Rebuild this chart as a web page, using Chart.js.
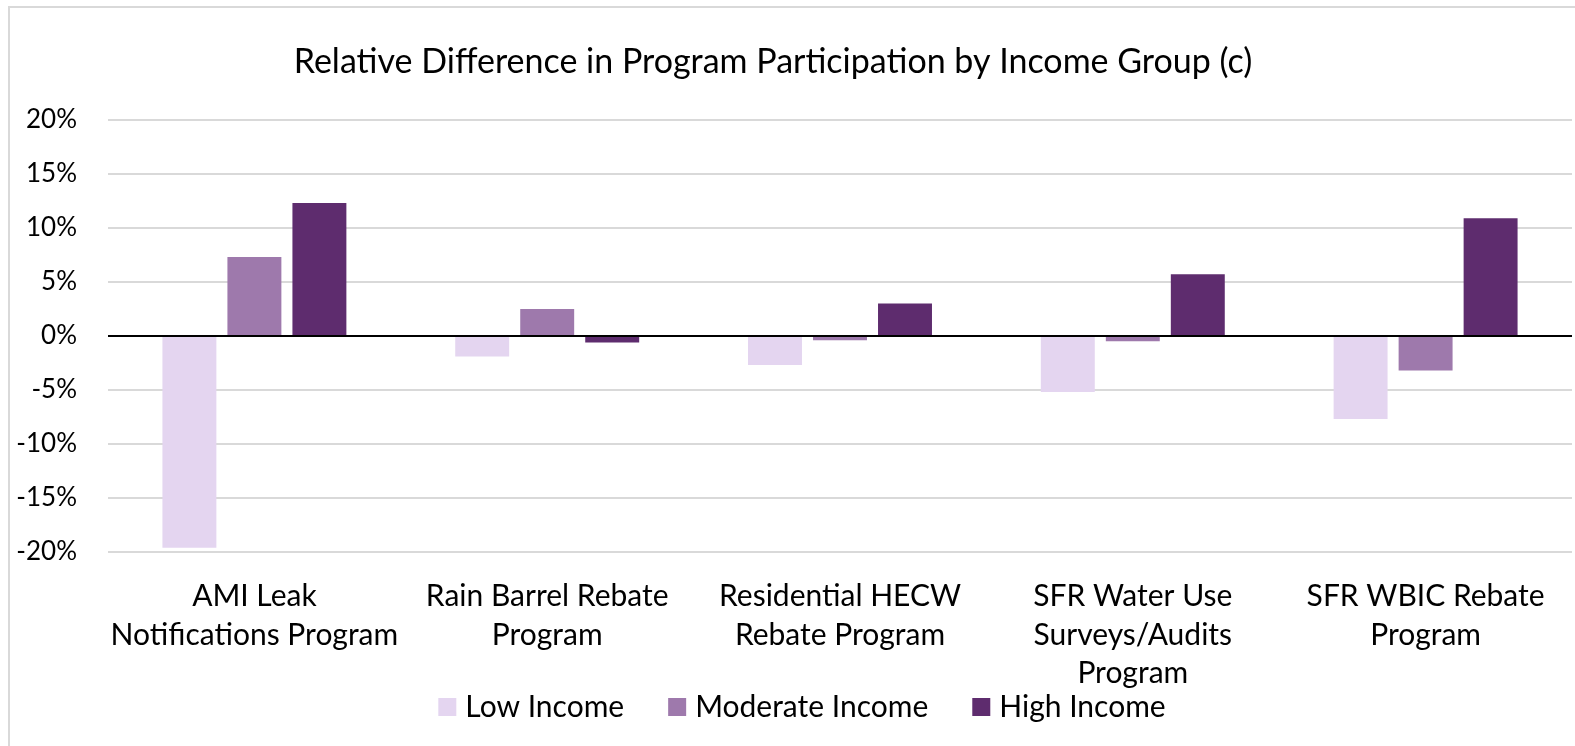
<!DOCTYPE html>
<html>
<head>
<meta charset="utf-8">
<title>Relative Difference in Program Participation by Income Group (c)</title>
<script src="https://cdn.jsdelivr.net/npm/chart.js@4.4.1/dist/chart.umd.min.js"></script>
<style>
  html, body { margin: 0; padding: 0; background: #fff; overflow: hidden; }
  body { width: 1575px; height: 746px; position: relative; }
  /* light frame around the chart area, runs off the right/bottom edge */
  .frame {
    position: absolute; left: 8px; top: 6px;
    width: 1700px; height: 900px;
    border: 2px solid #d9d9d9; box-sizing: border-box;
  }
  #chart { position: absolute; left: -26px; top: 0; }
</style>
</head>
<body>
<div class="frame"></div>
<canvas id="chart" width="1598" height="746"></canvas>
<script>
/* ─── data ─────────────────────────────────────────── */
const programs = [
  ['AMI Leak', 'Notifications Program'],
  ['Rain Barrel Rebate', 'Program'],
  ['Residential HECW', 'Rebate Program'],
  ['SFR Water Use', 'Surveys/Audits', 'Program'],
  ['SFR WBIC Rebate', 'Program']
];
const lowIncome      = [-19.6, -1.9, -2.7, -5.2, -7.7];
const moderateIncome = [7.3, 2.5, -0.4, -0.5, -3.2];
const highIncome     = [12.3, -0.6, 3.0, 5.7, 10.9];
const yTicks = [-20, -15, -10, -5, 0, 5, 10, 15, 20];

const FONT = 'Lato';
Chart.defaults.font.family = FONT;
Chart.defaults.color = '#000';

// black zero line drawn on top of the bars
const zeroLine = {
  id: 'zeroLine',
  afterDatasetsDraw(chart) {
    const { ctx, chartArea, scales } = chart;
    const y = Math.round(scales.y.getPixelForValue(0));
    ctx.save();
    ctx.strokeStyle = '#000';
    ctx.lineWidth = 2;
    ctx.beginPath();
    ctx.moveTo(chartArea.left, y);
    ctx.lineTo(chartArea.right, y);
    ctx.stroke();
    ctx.restore();
  }
};

// compact legend row under the category labels (square swatch + name)
const swatchLegend = {
  id: 'swatchLegend',
  afterDraw(chart, args, opts) {
    const { ctx } = chart;
    const sets = chart.data.datasets;
    ctx.save();
    ctx.font = `${opts.size}px ${FONT}`;
    ctx.textBaseline = 'middle';
    const widths = sets.map(d => opts.box + opts.gap + ctx.measureText(d.label).width);
    const total = widths.reduce((a, b) => a + b, 0) + opts.spacing * (sets.length - 1);
    let x = opts.x - total / 2;
    sets.forEach((d, i) => {
      ctx.fillStyle = d.backgroundColor;
      ctx.fillRect(x, opts.y - opts.box / 2, opts.box, opts.box);
      ctx.fillStyle = '#000';
      ctx.fillText(d.label, x + opts.box + opts.gap, opts.y);
      x += widths[i] + opts.spacing;
    });
    ctx.restore();
  }
};

new Chart(document.getElementById('chart'), {
  type: 'bar',
  data: {
    labels: programs,
    datasets: [
      { label: 'Low Income',      data: lowIncome,      backgroundColor: '#e4d5f0' },
      { label: 'Moderate Income', data: moderateIncome, backgroundColor: '#9e79ac' },
      { label: 'High Income',     data: highIncome,     backgroundColor: '#5e2c6e' }
    ]
  },
  options: {
    responsive: false,
    animation: false,
    barPercentage: 0.83,
    categoryPercentage: 0.666,
    layout: { padding: { left: 0, right: 0, top: 0, bottom: 46 } },
    scales: {
      x: {
        grid: { display: false },
        border: { display: false },
        ticks: {
          autoSkip: false, maxRotation: 0, minRotation: 0,
          padding: 17,
          font: { size: 30, lineHeight: 1.29 }
        },
        afterFit: s => { s.height = 148; }
      },
      y: {
        min: -20, max: 20,
        afterBuildTicks: s => { s.ticks = yTicks.map(v => ({ value: v })); },
        grid: { color: '#d9d9d9', lineWidth: 2, drawTicks: false },
        border: { display: false },
        ticks: {
          padding: 31,
          font: { size: 26 },
          callback: v => v + '%'
        },
        afterFit: s => { s.width = 134; }
      }
    },
    plugins: {
      title: {
        display: true,
        text: 'Relative Difference in Program Participation by Income Group (c)',
        font: { size: 34, weight: 'normal' },
        color: '#000',
        padding: { top: 42, bottom: 37 }
      },
      legend: { display: false },
      tooltip: { enabled: false },
      swatchLegend: { x: 828, y: 707, size: 30, box: 18, gap: 9, spacing: 44 }
    }
  },
  plugins: [zeroLine, swatchLegend]
});
</script>
</body>
</html>
